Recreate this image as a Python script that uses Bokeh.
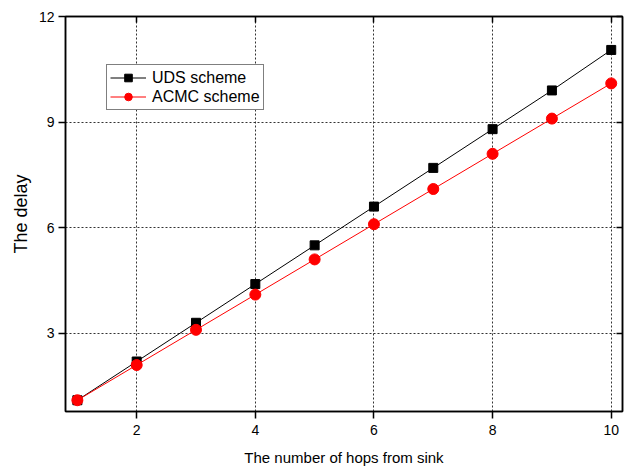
from bokeh.plotting import figure
from bokeh.models import Range1d, LinearAxis, FixedTicker, Legend, LegendItem
from bokeh.embed import file_html
from bokeh.resources import INLINE

hops = [1, 2, 3, 4, 5, 6, 7, 8, 9, 10]
uds = [1.1, 2.2, 3.3, 4.4, 5.5, 6.6, 7.7, 8.8, 9.9, 11.05]
acmc = [1.1, 2.1, 3.1, 4.1, 5.1, 6.1, 7.1, 8.1, 9.1, 10.1]
xticks = [2, 4, 6, 8, 10]
yticks = [3, 6, 9, 12]

FONT = "Liberation Sans"

p = figure(width=636, height=468, output_backend="svg", toolbar_location=None,
           x_range=Range1d(0.8, 10.19), y_range=Range1d(0.78, 12.0),
           min_border_left=65, min_border_right=14, min_border_top=16, min_border_bottom=57)
p.outline_line_color = "black"
p.outline_line_width = 1.5
p.background_fill_color = "white"
p.border_fill_color = "white"

for ax, ticks in ((p.xaxis[0], xticks), (p.yaxis[0], yticks)):
    ax.ticker = FixedTicker(ticks=ticks)
    ax.major_label_text_font = FONT
    ax.major_label_text_font_size = "14px"
    ax.major_label_text_color = "black"
    ax.axis_label_text_font = FONT
    ax.axis_label_text_font_style = "normal"
    ax.axis_label_text_color = "black"
    ax.minor_tick_line_color = None
    ax.major_tick_out = 7
    ax.major_tick_in = 0
    ax.axis_line_width = 1.5
    ax.major_tick_line_width = 1.5
    ax.axis_line_color = "black"
    ax.major_tick_line_color = "black"

p.xaxis[0].axis_label = "The number of hops from sink"
p.yaxis[0].axis_label = "The delay"
p.xaxis[0].axis_label_text_font_size = "15px"
p.yaxis[0].axis_label_text_font_size = "18px"
p.xaxis[0].axis_label_standoff = 11
p.yaxis[0].axis_label_standoff = 5
p.xaxis[0].major_label_standoff = 6
p.yaxis[0].major_label_standoff = 4

top = LinearAxis(ticker=FixedTicker(ticks=xticks), major_label_overrides={t: "" for t in xticks},
                 major_tick_in=6, major_tick_out=0, minor_tick_line_color=None,
                 axis_line_width=1.5, major_tick_line_width=1.5)
right = LinearAxis(ticker=FixedTicker(ticks=yticks), major_label_overrides={t: "" for t in yticks},
                   major_tick_in=6, major_tick_out=0, minor_tick_line_color=None,
                   axis_line_width=1.5, major_tick_line_width=1.5)
p.add_layout(top, "above")
p.add_layout(right, "right")

p.xgrid.ticker = FixedTicker(ticks=xticks)
p.ygrid.ticker = FixedTicker(ticks=yticks)
for g in (p.xgrid, p.ygrid):
    g.grid_line_color = "#333333"
    g.grid_line_dash = "2 2"
    g.grid_line_width = 1

l1 = p.line(hops, uds, color="black", line_width=1)
m1 = p.scatter(hops, uds, marker="square", size=9, color="black")
l2 = p.line(hops, acmc, color="red", line_width=1)
m2 = p.scatter(hops, acmc, marker="circle", size=11, color="red")

legend = Legend(items=[LegendItem(label="UDS scheme", renderers=[l1, m1]),
                       LegendItem(label="ACMC scheme", renderers=[l2, m2])],
                location=(41, 301))
legend.label_text_font = FONT
legend.label_text_font_size = "16px"
legend.label_text_color = "black"
legend.border_line_color = "black"
legend.border_line_width = 1
legend.glyph_width = 36
legend.glyph_height = 19
legend.label_height = 19
legend.spacing = 0
legend.padding = 3
legend.margin = 0
legend.label_standoff = 6
legend.background_fill_alpha = 1
p.add_layout(legend, "center")

open("out.html", "w").write(file_html(p, INLINE))
